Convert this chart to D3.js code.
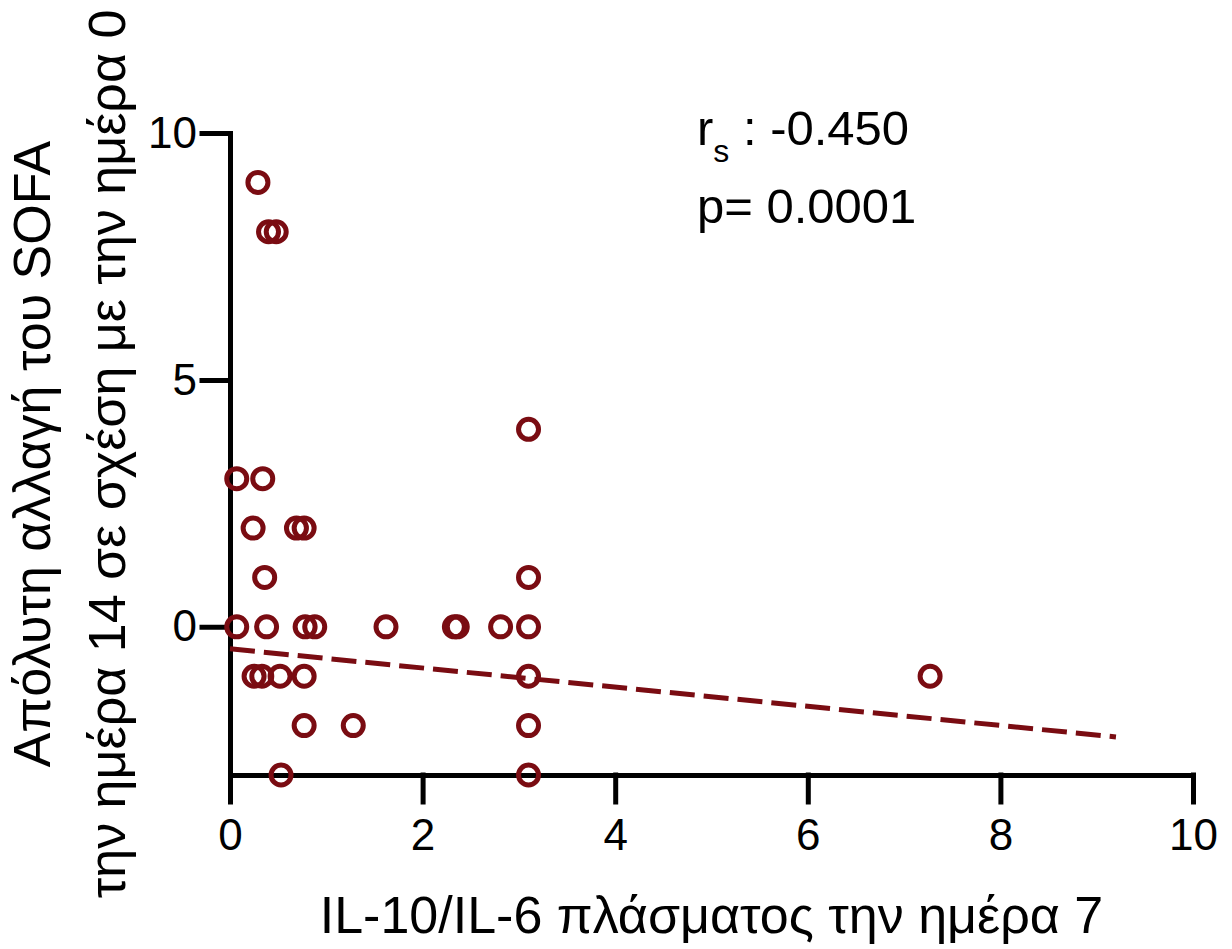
<!DOCTYPE html>
<html>
<head>
<meta charset="utf-8">
<script src="https://cdn.jsdelivr.net/npm/d3@7"></script>
<style>
  body { margin: 0; background: #fff; }
  text { font-family: Arial, 'Liberation Sans', sans-serif; fill: #000; }
</style>
</head>
<body>
<svg id="chart" width="1232" height="949"></svg>
<script>
// IL-10/IL-6 ratio (x) vs change in SOFA score (y)
const ratioValues = [
  0.29, 0.40, 0.48, 3.10, 0.07, 0.34,
  0.24, 0.69, 0.77, 0.36, 3.10,
  0.07, 0.38, 0.78, 0.88, 1.62, 2.33, 2.36, 2.81, 3.10,
  0.25, 0.33, 0.52, 0.77, 3.10, 7.27,
  0.77, 1.28, 3.10, 0.53, 3.10
];
const sofaChange = [
  9, 8, 8, 4, 3, 3,
  2, 2, 2, 1, 1,
  0, 0, 0, 0, 0, 0, 0, 0, 0,
  -1, -1, -1, -1, -1, -1,
  -2, -2, -2, -3, -3
];

// fitted line end points
const fitX = [0, 9.2];
const fitY = [-0.445, -2.23];

const xTicks = [0, 2, 4, 6, 8, 10];
const yTicks = [0, 5, 10];
const xDomain = [0, 10];
const yDomain = [-3, 10];

const xTitle = 'IL-10/IL-6 πλάσματος την ημέρα 7';
const yTitleLines = ['Απόλυτη αλλαγή του SOFA', 'την ημέρα 14 σε σχέση με την ημέρα 0'];
const rsValue = '-0.450';
const pValue = '0.0001';

const config = {
  'color': '#7a0c12',
  'axis-width': 5,
  'radius': 10,
  'tick-font': '44px',
  'title-font': '52px',
  'stat-font': '49px'
};

const svg = d3.select('#chart');

const x = d3.scaleLinear().domain(xDomain).range([230, 1193]);
const y = d3.scaleLinear().domain(yDomain).range([775, 133]);

const xAxis = svg.append('g')
  .attr('transform', `translate(0, ${y(yDomain[0])})`)
  .call(d3.axisBottom(x).tickValues(xTicks).tickSize(27).tickSizeOuter(0).tickPadding(17));

const yAxis = svg.append('g')
  .attr('transform', `translate(${x(xDomain[0])}, 0)`)
  .call(d3.axisLeft(y).tickValues(yTicks).tickSize(28).tickSizeOuter(0).tickPadding(5));

[xAxis, yAxis].forEach(a => {
  a.selectAll('path, line')
    .attr('stroke', '#000')
    .attr('stroke-width', config['axis-width'])
    .attr('stroke-linecap', 'square');
  a.selectAll('text')
    .style('font-size', config['tick-font'])
    .attr('fill', '#000');
});

// dashed fit line
const line = d3.line()
  .x(d => x(d[0]))
  .y(d => y(d[1]));

svg.append('path')
  .attr('d', line(fitX.map((v, i) => [v, fitY[i]])))
  .attr('fill', 'none')
  .attr('stroke', config['color'])
  .attr('stroke-width', 5)
  .attr('stroke-dasharray', '25,9');

// points
svg.append('g')
  .selectAll('circle')
  .data(ratioValues.map((v, i) => [v, sofaChange[i]]))
  .enter()
  .append('circle')
  .attr('cx', d => x(d[0]))
  .attr('cy', d => y(d[1]))
  .attr('r', config['radius'])
  .attr('fill', 'none')
  .attr('stroke', config['color'])
  .attr('stroke-width', 5);

// axis titles
svg.append('text')
  .attr('x', (x.range()[0] + x.range()[1]) / 2)
  .attr('y', 933)
  .attr('text-anchor', 'middle')
  .style('font-size', config['title-font'])
  .text(xTitle);

const yMid = (y.range()[0] + y.range()[1]) / 2;
yTitleLines.forEach((t, i) => {
  svg.append('text')
    .attr('transform', `translate(${50 + i * 75}, ${yMid}) rotate(-90)`)
    .attr('text-anchor', 'middle')
    .style('font-size', config['title-font'])
    .text(t);
});

// statistics
const rs = svg.append('text')
  .attr('x', 697)
  .attr('y', 145)
  .style('font-size', config['stat-font']);
rs.append('tspan').text('r');
rs.append('tspan').attr('dy', 17).style('font-size', '32px').text('s');
rs.append('tspan').attr('dy', -17).text(` : ${rsValue}`);

svg.append('text')
  .attr('x', 697)
  .attr('y', 223)
  .style('font-size', config['stat-font'])
  .text(`p= ${pValue}`);
</script>
</body>
</html>
